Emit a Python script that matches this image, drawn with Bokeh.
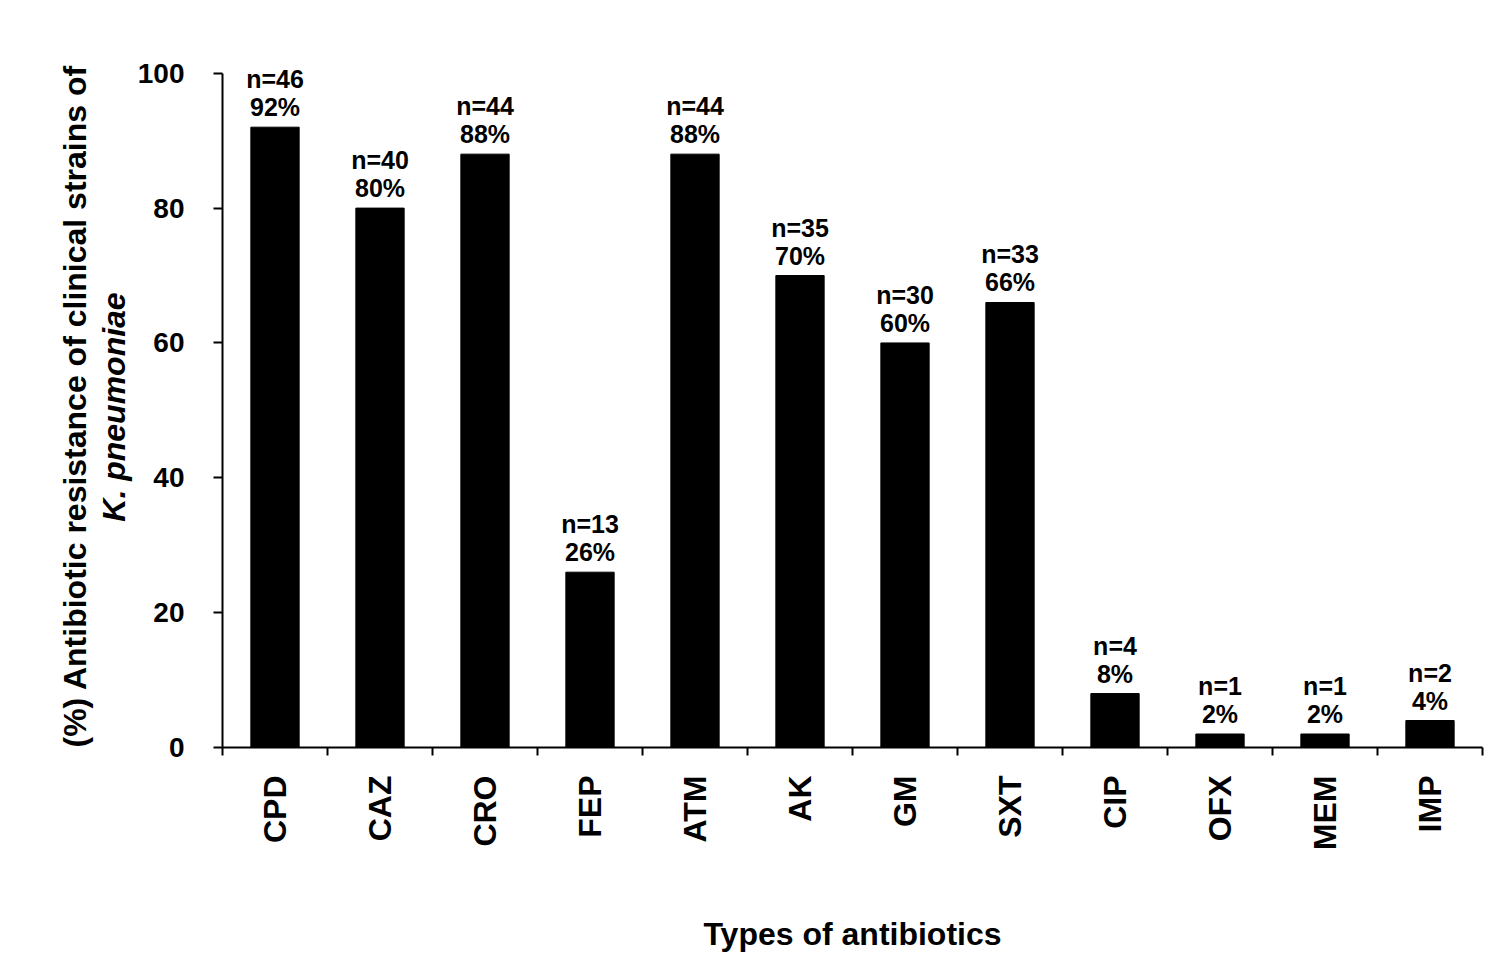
import numpy as np
from math import pi
from bokeh.plotting import figure
from bokeh.models import ColumnDataSource, FixedTicker, Range1d, Title
from bokeh.core.properties import value
from bokeh.embed import file_html
from bokeh.resources import INLINE

categories = ["CPD", "CAZ", "CRO", "FEP", "ATM", "AK", "GM", "SXT", "CIP", "OFX", "MEM", "IMP"]
n_values = [46, 40, 44, 13, 44, 35, 30, 33, 4, 1, 1, 2]
percent = [92, 80, 88, 26, 88, 70, 60, 66, 8, 2, 2, 4]
y_ticks = [0, 20, 40, 60, 80, 100]

FONT = "Liberation Sans"

xs = np.arange(len(categories)) + 0.5
src = ColumnDataSource(dict(
    x=xs, top=percent,
    ntxt=[f"n={n}" for n in n_values],
    ptxt=[f"{v}%" for v in percent],
))

p = figure(width=1488, height=959, output_backend="svg", toolbar_location=None,
           x_range=Range1d(0, len(categories)), y_range=Range1d(0, 101),
           min_border_left=222, min_border_right=6, min_border_top=66, min_border_bottom=212)
p.outline_line_color = None
p.grid.visible = False
p.background_fill_color = "white"

p.vbar(x="x", top="top", width=0.46, bottom=0, source=src, color="black")

p.text(x="x", y="top", text="ptxt", source=src, y_offset=-20,
       text_align="center", text_baseline="alphabetic",
       text_font=value(FONT), text_font_style="bold", text_font_size="25px", text_color="black")
p.text(x="x", y="top", text="ntxt", source=src, y_offset=-48,
       text_align="center", text_baseline="alphabetic",
       text_font=value(FONT), text_font_style="bold", text_font_size="25px", text_color="black")

# x axis
xa = p.xaxis[0]
xa.ticker = FixedTicker(ticks=list(xs), minor_ticks=list(range(len(categories) + 1)))
xa.major_label_overrides = {float(x): c for x, c in zip(xs, categories)}
xa.major_tick_line_color = None
xa.major_tick_out = 0
xa.major_tick_in = 0
xa.minor_tick_line_color = "black"
xa.minor_tick_line_width = 2
xa.minor_tick_out = 8
xa.minor_tick_in = 0
xa.axis_line_width = 2
xa.axis_line_color = "black"
xa.major_label_orientation = pi / 2
xa.major_label_standoff = 20
xa.major_label_text_font = FONT
xa.major_label_text_font_style = "bold"
xa.major_label_text_font_size = "32px"
xa.major_label_text_color = "black"
xa.axis_label = "Types of antibiotics"
xa.axis_label_text_font = FONT
xa.axis_label_text_font_style = "bold"
xa.axis_label_text_font_size = "32px"
xa.axis_label_text_color = "black"
xa.axis_label_standoff = 63

# y axis (tick labels + second title line)
ya = p.yaxis[0]
ya.ticker = FixedTicker(ticks=y_ticks)
ya.bounds = (0, 100)
ya.major_tick_out = 9
ya.major_tick_in = 0
ya.major_tick_line_width = 2
ya.minor_tick_line_color = None
ya.axis_line_width = 2
ya.axis_line_color = "black"
ya.major_label_standoff = 29
ya.major_label_text_font = FONT
ya.major_label_text_font_style = "bold"
ya.major_label_text_font_size = "28px"
ya.major_label_text_color = "black"
ya.axis_label = "K. pneumoniae"
ya.axis_label_text_font = FONT
ya.axis_label_text_font_style = "bold italic"
ya.axis_label_text_font_size = "32px"
ya.axis_label_text_color = "black"
ya.axis_label_standoff = 3

# outer title line
p.add_layout(Title(text="(%) Antibiotic resistance of  clinical strains of",
                   align="left", offset=0, standoff=0,
                   text_font=FONT, text_font_style="bold", text_font_size="32px",
                   text_color="black"), "left")

open("out.html", "w").write(file_html(p, INLINE))
